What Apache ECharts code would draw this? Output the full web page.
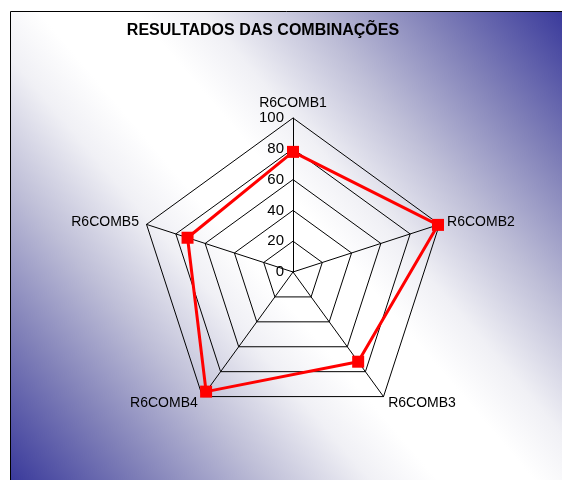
<!DOCTYPE html>
<html>
<head>
<meta charset="utf-8">
<script src="https://cdn.jsdelivr.net/npm/echarts@6/dist/echarts.min.js"></script>
<style>
  html, body { margin: 0; padding: 0; background: #fff; }
  #chart { width: 562px; height: 480px; }
</style>
</head>
<body>
<div id="chart"></div>
<script>
// data
var categories = ['R6COMB1', 'R6COMB2', 'R6COMB3', 'R6COMB4', 'R6COMB5'];
var values = [78, 99, 72, 96, 72];
var tickLabels = ['0', '20', '40', '60', '80', '100'];

(function () {
    "use strict";

    var myChart = echarts.init(document.getElementById('chart'));

    // radar runs counter-clockwise, the picture goes clockwise
    var order = [0].concat(categories.slice(1).map(function (c, i) { return i + 1; }).reverse());

    var indicators = order.map(function (idx, k) {
        var ind = { name: categories[idx], min: 0, max: 100 };
        if (k === 0) {
            ind.axisLabel = {
                show: true,
                color: '#000',
                fontSize: 15,
                fontFamily: 'Liberation Sans',
                margin: 9,
                formatter: function (v) { return tickLabels[Math.round(v / 20)]; }
            };
        }
        return ind;
    });

    var option = {
        animation: false,
        graphic: [{
            type: 'rect',
            z: -10,
            silent: true,
            shape: { x: 10.5, y: 11.5, width: 556, height: 474 },
            style: {
                fill: new echarts.graphic.LinearGradient(1, 0, 0, 1, [
                    { offset: 0, color: '#37379a' },
                    { offset: 0.15, color: '#8282b9' },
                    { offset: 0.27, color: '#bebed7' },
                    { offset: 0.38, color: '#f0f0f5' },
                    { offset: 0.45, color: '#ffffff' },
                    { offset: 0.55, color: '#ffffff' },
                    { offset: 0.62, color: '#f0f0f5' },
                    { offset: 0.73, color: '#bebed7' },
                    { offset: 0.85, color: '#8282b9' },
                    { offset: 1, color: '#37379a' }
                ]),
                stroke: '#000',
                lineWidth: 1
            }
        }],
        title: {
            text: 'RESULTADOS DAS COMBINAÇÕES',
            left: 258,
            top: 18,
            textAlign: 'center',
            textStyle: {
                color: '#000',
                fontSize: 16,
                fontWeight: 'bold',
                fontFamily: 'Liberation Sans'
            }
        },
        radar: {
            center: [293, 272],
            radius: 154,
            startAngle: 90,
            shape: 'polygon',
            splitNumber: 5,
            indicator: indicators,
            nameGap: 8,
            axisName: {
                color: '#000',
                fontSize: 14,
                fontFamily: 'Liberation Sans'
            },
            axisLine: { lineStyle: { color: '#000', width: 1 } },
            splitLine: { lineStyle: { color: '#000', width: 1 } },
            splitArea: { show: false },
            axisLabel: { show: false },
            axisTick: { show: false }
        },
        series: [{
            type: 'radar',
            symbol: 'rect',
            symbolSize: 12,
            lineStyle: { color: '#ff0000', width: 3 },
            itemStyle: { color: '#ff0000' },
            data: [{ value: order.map(function (idx) { return values[idx]; }) }]
        }]
    };
    myChart.setOption(option);
})();
</script>
</body>
</html>
